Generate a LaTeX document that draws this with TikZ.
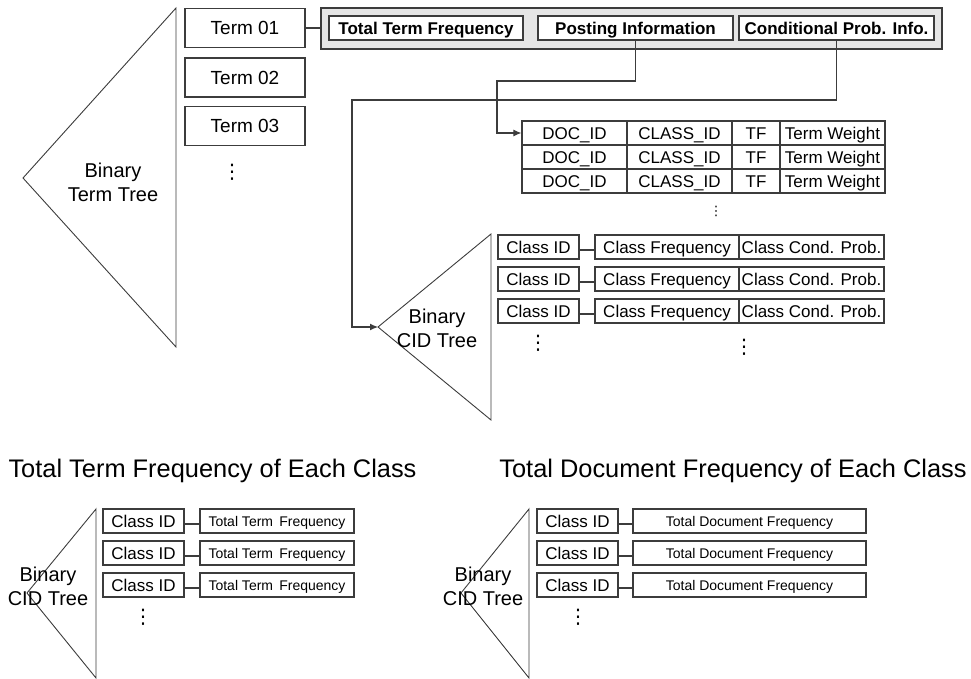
\documentclass[tikz,border=0pt]{standalone}
\usepackage{fontspec}
\setmainfont{Liberation Sans}
\newfontfamily\dotfont{DejaVu Sans}
\usetikzlibrary{arrows.meta}
\definecolor{edge}{HTML}{3C3C3C}
\definecolor{panel}{HTML}{E6E6E6}
\begin{document}
\begin{tikzpicture}[x=1pt,y=-1pt,
  box/.style={draw=edge,line width=1.2pt,fill=white,inner sep=0pt,text=black},
  termbox/.style={box,minimum width=120pt,minimum height=39pt,text height=17pt,text depth=3.4pt,font=\fontsize{19pt}{22pt}\selectfont},
  headbox/.style={box,minimum width=195pt,minimum height=24pt,text height=15.7pt,text depth=3.5pt,font=\bfseries\fontsize{17pt}{20pt}\selectfont},
  cell/.style={box,minimum height=24pt,text height=15.7pt,text depth=3.5pt,font=\fontsize{17pt}{20pt}\selectfont},
  smallcell/.style={box,minimum height=24pt,text height=13pt,text depth=3pt,font=\fontsize{14pt}{16pt}\selectfont},
  treelabel/.style={align=center,inner sep=0pt,font=\fontsize{20pt}{24pt}\selectfont},
  title/.style={inner sep=0pt,font=\fontsize{25.4pt}{30pt}\selectfont},
  tree/.style={draw=edge,line width=0.9pt},
  conn/.style={draw=edge,line width=1.1pt},
  arrowconn/.style={conn,-{Latex[length=8pt,width=7pt]}},
  dots/.style={inner sep=0pt,font=\dotfont\fontsize{20pt}{22pt}\selectfont},
  tinydots/.style={inner sep=0pt,font=\dotfont\fontsize{13pt}{14pt}\selectfont}
]
\useasboundingbox (0,0) rectangle (971,679);

% ---------- Binary term tree ----------
\coordinate (btTop) at (176,8);
\coordinate (btApex) at (23,178);
\coordinate (btBot) at (176,347);
\draw[tree] (btTop) -- (btApex) -- (btBot) -- cycle;
\node[treelabel] (btText) at (113,182) {Binary\\Term Tree};

\node[termbox] (t1) at (245,28) {Term 01};
\node[termbox] (t2) at (245,77.5) {Term 02};
\node[termbox] (t3) at (245,126) {Term 03};
\node[dots] (tdots) at (232,172) {⋮};

% ---------- header panel ----------
\node[draw=edge,line width=1.6pt,fill=panel,minimum width=621pt,minimum height=41pt,inner sep=0pt] (panel) at (631.5,28.5) {};
\node[headbox,minimum width=194pt] (httf) at (426,28) {Total Term Frequency};
\node[headbox] (hpost) at (635.5,28) {Posting Information};
\node[headbox] (hcond) at (836.5,28) {Conditional Prob. Info.};
\draw[conn] (t1.east) -- (t1.east -| panel.west);

% ---------- posting table ----------
\foreach \r/\y in {1/133,2/157,3/181}{
  \node[cell,minimum width=105pt] (doc\r) at (574.5,\y) {DOC\_ID};
  \node[cell,minimum width=105pt] (cls\r) at (679.5,\y) {CLASS\_ID};
  \node[cell,minimum width=48pt] (tf\r) at (756,\y) {TF};
  \node[cell,minimum width=105pt] (tw\r) at (832.5,\y) {Term Weight};
}
\node[tinydots] (tabdots) at (716,211) {⋮};

\coordinate (pA) at (635.5,81);
\coordinate (pB) at (497,81);
\draw[arrowconn] (hpost.south) -- (pA) -- (pB) -- (pB |- doc1.west) -- (doc1.west);

% ---------- CID tree ----------
\coordinate (cTop) at (491,234);
\coordinate (cApex) at (378,327);
\coordinate (cBot) at (491,420);
\draw[tree] (cTop) -- (cApex) -- (cBot) -- cycle;
\node[treelabel] (cText) at (437,328) {Binary\\CID Tree};

\foreach \r/\y in {1/247,2/279,3/311}{
  \node[cell,minimum width=81pt] (cid\r) at (538.5,\y) {Class ID};
  \node[cell,minimum width=144pt] (cf\r) at (667,\y) {Class Frequency};
  \node[cell,minimum width=145pt] (cp\r) at (811.5,\y) {Class Cond. Prob.};
  \draw[conn] ([yshift=-3pt]cid\r.east) -- ([yshift=-3pt]cf\r.west);
}
\node[dots] (cdots1) at (538,343) {⋮};
\node[dots] (cdots2) at (744,347) {⋮};

\coordinate (qA) at (836.5,100);
\coordinate (qB) at (352,100);
\draw[arrowconn] (hcond.south) -- (qA) -- (qB) -- (qB |- cApex) -- (cApex);

% ---------- bottom left ----------
\node[title] (ttl1) at (212.5,471) {Total Term Frequency of Each Class};
\coordinate (lTop) at (96,509);
\coordinate (lApex) at (27,593);
\coordinate (lBot) at (96,678);
\draw[tree] (lTop) -- (lApex) -- (lBot) -- cycle;
\node[treelabel] (lText) at (48,586) {Binary\\CID Tree};
\foreach \r/\y in {1/521,2/553,3/585}{
  \node[cell,minimum width=81pt] (lc\r) at (143.5,\y) {Class ID};
  \node[smallcell,minimum width=154pt] (lt\r) at (277,\y) {Total Term\, Frequency};
  \draw[conn] ([yshift=-3pt]lc\r.east) -- ([yshift=-3pt]lt\r.west);
}
\node[dots] (ldots) at (143,617) {⋮};

% ---------- bottom right ----------
\node[title] (ttl2) at (733,471) {Total Document Frequency of Each Class};
\coordinate (rTop) at (529,509);
\coordinate (rApex) at (461,593);
\coordinate (rBot) at (529,678);
\draw[tree] (rTop) -- (rApex) -- (rBot) -- cycle;
\node[treelabel] (rText) at (483,586) {Binary\\CID Tree};
\foreach \r/\y in {1/521,2/553,3/585}{
  \node[cell,minimum width=81pt] (rc\r) at (577.5,\y) {Class ID};
  \node[smallcell,minimum width=233pt] (rt\r) at (749.5,\y) {Total Document Frequency};
  \draw[conn] ([yshift=-3pt]rc\r.east) -- ([yshift=-3pt]rt\r.west);
}
\node[dots] (rdots) at (578,617) {⋮};
\end{tikzpicture}
\end{document}
